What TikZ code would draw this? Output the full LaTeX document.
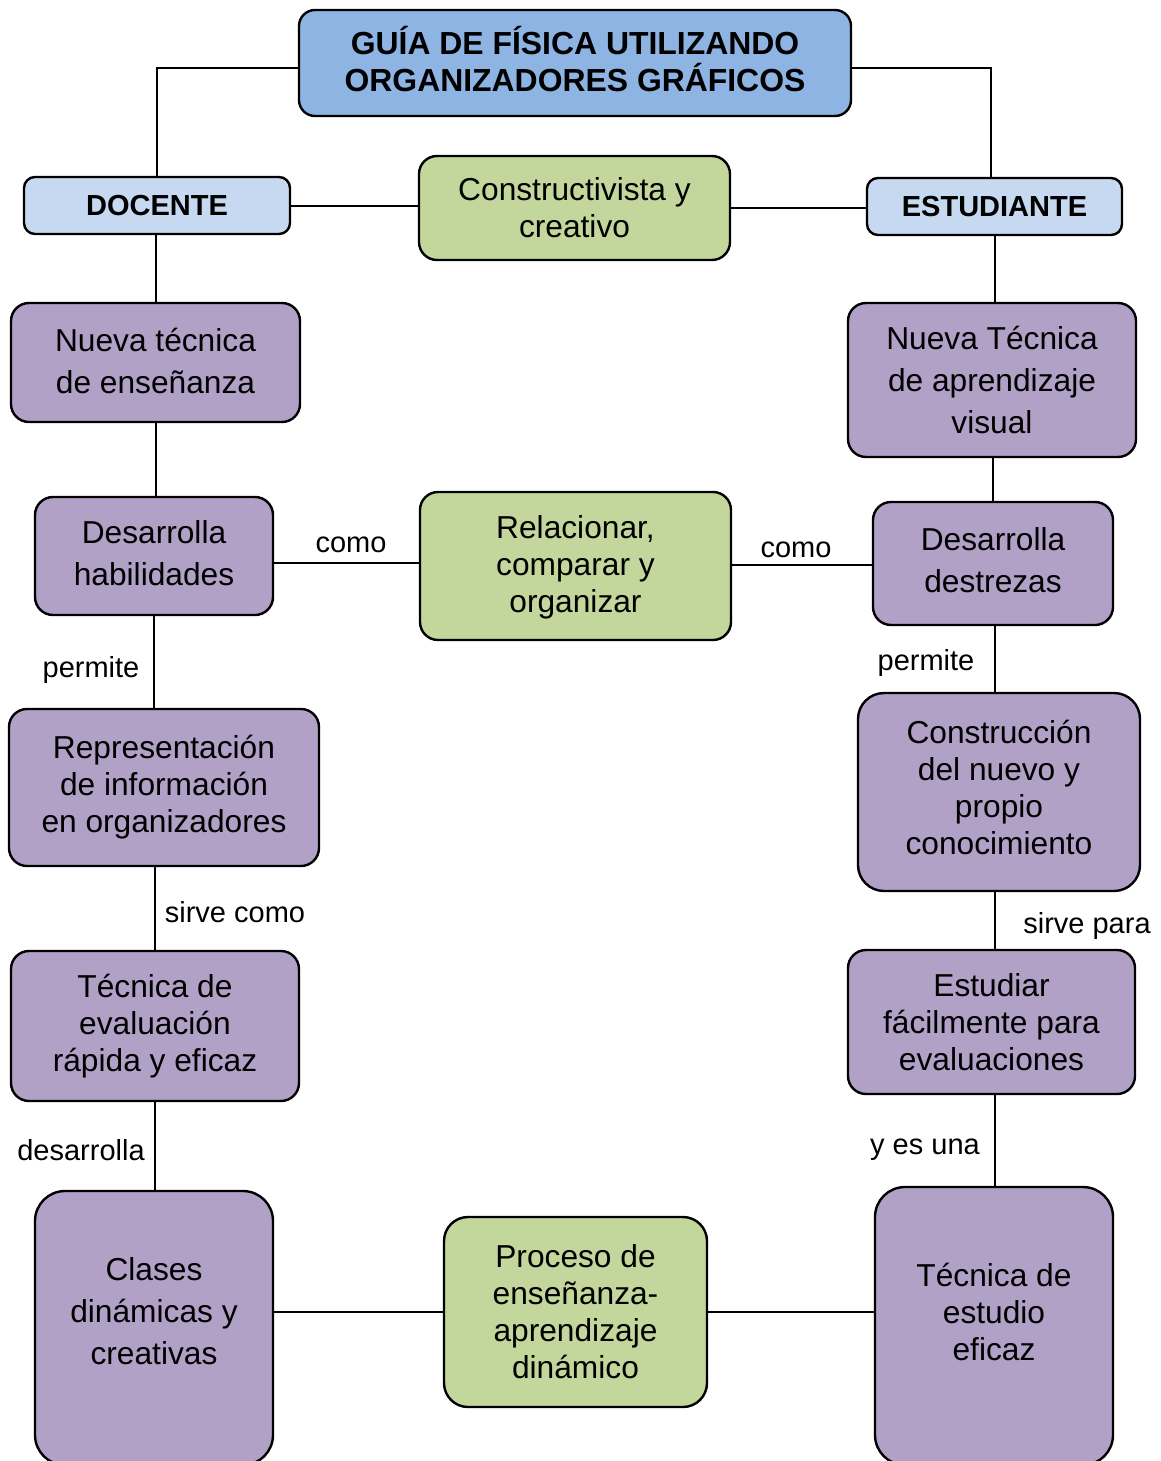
\documentclass[tikz,border=0pt]{standalone}
\usepackage{fontspec}
\setmainfont{Liberation Sans}
\begin{document}
\definecolor{titleblue}{HTML}{8DB4E2}
\definecolor{roleblue}{HTML}{C6D9F1}
\definecolor{ideagreen}{HTML}{C3D69B}
\definecolor{stepviolet}{HTML}{B2A1C7}
\begin{tikzpicture}[x=1pt,y=-1pt,
  box/.style={draw=black, line width=2.4pt, rounded corners=18pt, inner sep=0pt,
    align=center, font=\fontsize{31.7}{37}\selectfont},
  titlebox/.style={box, fill=titleblue, rounded corners=16pt},
  titletext/.style={align=center, font=\bfseries\fontsize{31.9}{37}\selectfont},
  rolebox/.style={box, fill=roleblue, font=\bfseries\fontsize{29}{34}\selectfont, rounded corners=11pt},
  ideabox/.style={box, fill=ideagreen},
  stepbox/.style={box, fill=stepviolet},
  wide/.style={font=\fontsize{31.7}{42}\selectfont},
  boxtext/.style={align=center, font=\fontsize{31.7}{37}\selectfont},
  link/.style={draw=black, line width=2pt},
  linklabel/.style={font=\fontsize{29}{34}\selectfont, inner sep=0pt}
]
\useasboundingbox (0,0) rectangle (1161,1461);

% top of the map
\node[titlebox, minimum width=552, minimum height=106] (title) at (575,63) {};
\node[titletext] (titletxt) at (575,59)
  {GUÍA DE FÍSICA UTILIZANDO\\ORGANIZADORES GRÁFICOS};
\node[rolebox, minimum width=266, minimum height=57] (doc) at (157,205.5) {DOCENTE};
\node[rolebox, minimum width=255, minimum height=57] (est) at (994.5,206.5) {ESTUDIANTE};
\node[ideabox, minimum width=311, minimum height=104] (cons) at (574.5,208)
  {Constructivista y\\creativo};

% teacher column
\node[stepbox, wide, minimum width=289, minimum height=119] (nt1) at (155.5,362.5) {};
\node[font=\fontsize{31.7}{42}\selectfont, align=center] (nt1txt) at (155.5,360.5)
  {Nueva técnica\\de enseñanza};
\node[stepbox, wide, minimum width=238, minimum height=118] (dh) at (154,556) {};
\node[font=\fontsize{31.7}{42}\selectfont, align=center] (dhtxt) at (154,553.5)
  {Desarrolla\\habilidades};
\node[stepbox, minimum width=310, minimum height=157] (rep) at (164,787.5)
  {Representación\\de información\\en organizadores};
\node[stepbox, minimum width=288, minimum height=150] (tev) at (155,1026)
  {Técnica de\\evaluación\\rápida y eficaz};
\node[stepbox, rounded corners=30pt, minimum width=238, minimum height=274] (cla) at (154,1328) {};
\node[font=\fontsize{31.7}{42}\selectfont, align=center] (clatext) at (154,1311)
  {Clases\\dinámicas y\\creativas};

% student column
\node[stepbox, wide, minimum width=288, minimum height=154] (nt2) at (992,380)
  {Nueva Técnica\\de aprendizaje\\visual};
\node[stepbox, wide, minimum width=240, minimum height=123] (dd) at (993,563.5) {};
\node[font=\fontsize{31.7}{42}\selectfont, align=center] (ddtxt) at (993,560)
  {Desarrolla\\destrezas};
\node[stepbox, rounded corners=26pt, minimum width=282, minimum height=198] (con) at (999,792) {};
\node[boxtext] (contxt) at (999,787)
  {Construcción\\del nuevo y\\propio\\conocimiento};
\node[stepbox, minimum width=287, minimum height=144] (estu) at (991.5,1022)
  {Estudiar\\fácilmente para\\evaluaciones};
\node[stepbox, rounded corners=30pt, minimum width=238, minimum height=278] (tes) at (994,1326) {};
\node[boxtext] (testext) at (994,1312)
  {Técnica de\\estudio\\eficaz};

% middle column
\node[ideabox, minimum width=311, minimum height=148] (rel) at (575.5,566) {};
\node[boxtext] (reltxt) at (575.5,567)
  {Relacionar,\\comparar y\\organizar};
\node[ideabox, rounded corners=24pt, minimum width=263, minimum height=190] (proc) at (575.5,1312)
  {Proceso de\\enseñanza-\\aprendizaje\\dinámico};

% connectors
\draw[link] ([yshift=-5pt]title.west) -| (doc.north);
\draw[link] ([yshift=-5pt]title.east) -| ([xshift=-3.5pt]est.north);
\draw[link] (doc.east) -- (cons.west |- doc.east);
\draw[link] (cons.east) -- (est.west |- cons.east);

\draw[link] (nt1.north) -- (nt1.north |- doc.south);
\draw[link] (nt1.south) -- (nt1.south |- dh.north);
\draw[link] (dh.south) -- (dh.south |- rep.north);
\draw[link] (tev.north |- rep.south) -- (tev.north);
\draw[link] (tev.south) -- (tev.south |- cla.north);

\draw[link] (est.south) -- (est.south |- nt2.north);
\draw[link] (dd.north |- nt2.south) -- (dd.north);
\draw[link] ([xshift=2pt]dd.south) -- ([xshift=2pt]dd.south |- con.north);
\draw[link] ([xshift=2pt]dd.south |- con.south) -- ([xshift=2pt]dd.south |- estu.north);
\draw[link] ([xshift=1pt]tes.north |- estu.south) -- ([xshift=1pt]tes.north);

\draw[link] (dh.east |- 0,563) -- (rel.west |- 0,563);
\draw[link] (rel.east |- 0,565) -- (dd.west |- 0,565);
\draw[link] (cla.east |- proc.west) -- (proc.west);
\draw[link] (proc.east) -- (tes.west |- proc.east);

% link words
\node[linklabel] (l1) at (351,545) {como};
\node[linklabel] (l2) at (796,550) {como};
\node[linklabel] (l3) at (91,670) {permite};
\node[linklabel] (l4) at (926,663) {permite};
\node[linklabel] (l5) at (235,912) {sirve como};
\node[linklabel] (l6) at (1087,926) {sirve para};
\node[linklabel] (l7) at (81,1150) {desarrolla};
\node[linklabel] (l8) at (925,1150) {y es una};
\end{tikzpicture}
\end{document}
